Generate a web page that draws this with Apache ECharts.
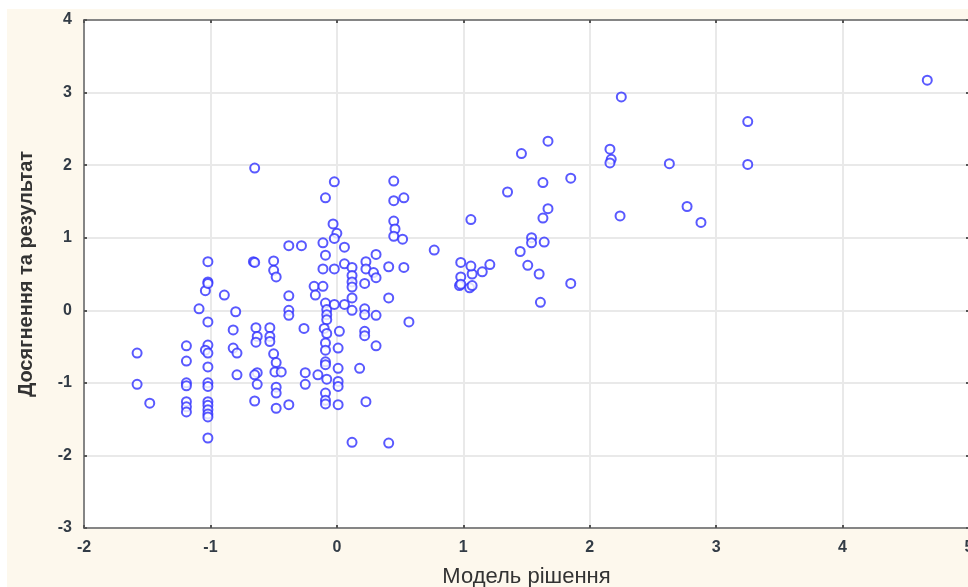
<!DOCTYPE html>
<html>
<head>
<meta charset="utf-8">
<title>Модель рішення / Досягнення та результат</title>
<script src="https://cdn.jsdelivr.net/npm/echarts@6/dist/echarts.min.js"></script>
<style>
  html, body { margin: 0; padding: 0; background: #ffffff; }
  #chart { width: 968px; height: 587px; }
</style>
</head>
<body>
<div id="chart"></div>
<script>
// Scores on the "decision model" factor (x) and "achievement & result" factor (y)
const modelScores = [
  -1.58, -1.58, -1.48, -1.19, -1.19, -1.19, -1.19, -1.19, -1.19, -1.19,
  -1.09, -1.04, -1.02, -1.02, -1.02, -1.02, -1.02, -1.04, -1.02, -1.02,
  -1.02, -1.02, -1.02, -1.02, -1.02, -1.02, -1.02, -1.02, -0.89, -0.80,
  -0.82, -0.82, -0.79, -0.79,
  -0.65, -0.66, -0.65, -0.64, -0.63, -0.64, -0.63, -0.65, -0.63, -0.65,
  -0.50, -0.50, -0.48, -0.53, -0.53, -0.53, -0.50, -0.48, -0.49, -0.44,
  -0.48, -0.48, -0.48,
  -0.38, -0.38, -0.38, -0.38, -0.38,
  -0.28, -0.26, -0.25, -0.25,
  -0.18, -0.17, -0.15,
  -0.09, -0.11, -0.09, -0.11, -0.11, -0.09, -0.08, -0.08, -0.08, -0.10,
  -0.08, -0.09, -0.09, -0.09, -0.09, -0.08, -0.09, -0.09, -0.09,
  -0.02, -0.03, 0.00, -0.02, 0.06, -0.02, 0.06, -0.02, 0.06, 0.02,
  0.01, 0.01, 0.01, 0.01, 0.01,
  0.12, 0.12, 0.12, 0.12, 0.12, 0.12, 0.12, 0.18,
  0.23, 0.23, 0.22, 0.22, 0.22, 0.22, 0.22, 0.23, 0.29, 0.31,
  0.31, 0.31, 0.31,
  0.41, 0.41, 0.41, 0.45, 0.45, 0.53, 0.45, 0.46, 0.45, 0.52,
  0.53, 0.57, 0.77,
  0.98, 0.98, 0.97, 0.98, 1.05, 1.07, 1.07, 1.06, 1.15, 1.21, 1.06,
  1.35, 1.46, 1.45, 1.51, 1.54, 1.54, 1.64, 1.60, 1.61, 1.63,
  1.67, 1.63, 1.67, 1.85, 1.85,
  2.16, 2.17, 2.16, 2.25, 2.24, 2.63, 2.77, 2.88, 3.25, 3.25, 4.67
];
const resultScores = [
  -0.59, -1.02, -1.28, -0.49, -0.70, -1.00, -1.04, -1.26, -1.33, -1.40,
  0.02, 0.27, 0.67, 0.39, 0.37, -0.16, -0.48, -0.55, -0.59, -0.78,
  -1.00, -1.05, -1.26, -1.31, -1.37, -1.43, -1.47, -1.76, 0.21, -0.02,
  -0.27, -0.52, -0.59, -0.89,
  1.96, 0.67, 0.66, -0.24, -0.36, -0.44, -0.86, -0.89, -1.02, -1.25,
  0.68, 0.55, 0.46, -0.24, -0.36, -0.43, -0.60, -0.72, -0.85, -0.85,
  -1.06, -1.14, -1.35,
  0.89, 0.20, 0.00, -0.07, -1.30,
  0.89, -0.25, -0.86, -1.02,
  0.33, 0.21, -0.89,
  1.55, 0.93, 0.76, 0.57, 0.33, 0.10, 0.01, -0.06, -0.13, -0.25,
  -0.32, -0.45, -0.55, -0.71, -0.75, -0.95, -1.14, -1.24, -1.29,
  1.77, 1.19, 1.06, 0.99, 0.87, 0.57, 0.64, 0.08, 0.08, -0.29,
  -0.52, -0.80, -0.98, -1.05, -1.30,
  0.59, 0.48, 0.39, 0.32, 0.17, 0.00, -1.82, -0.80,
  0.67, 0.57, 0.37, 0.02, -0.06, -0.29, -0.35, -1.26, 0.52, 0.45,
  0.77, -0.07, -0.49,
  0.60, 0.17, -1.83, 1.78, 1.51, 1.55, 1.23, 1.12, 1.02, 0.98,
  0.59, -0.16, 0.83,
  0.66, 0.46, 0.34, 0.36, 0.31, 0.34, 0.50, 0.61, 0.53, 0.63, 1.25,
  1.63, 2.16, 0.81, 0.62, 1.00, 0.93, 0.94, 0.50, 0.11, 1.27,
  1.40, 1.76, 2.33, 1.82, 0.37,
  2.22, 2.08, 2.03, 2.94, 1.30, 2.02, 1.43, 1.21, 2.60, 2.01, 3.17
];

const xTicks = { min: -2, max: 5, interval: 1 };
const yTicks = { min: -3, max: 4, interval: 1 };
const xTitle = 'Модель рішення';
const yTitle = 'Досягнення та результат';

const points = modelScores.map((x, i) => [x, resultScores[i]]);

const fontStack = 'Liberation Sans, Arial, sans-serif';
const labelStyle = {
  color: '#333c46',
  fontFamily: fontStack,
  fontSize: 16,
  fontWeight: 'bold'
};
const frameLine = { show: true, onZero: false, lineStyle: { color: '#858585', width: 2 } };
const innerTick = { show: true, inside: true, length: 3, lineStyle: { color: '#555', width: 2 } };
const gridLines = { show: true, lineStyle: { color: '#e9e9e9', width: 2 } };

const chart = echarts.init(document.getElementById('chart'), null, { renderer: 'canvas' });
chart.setOption({
  backgroundColor: 'transparent',
  animation: false,
  graphic: [{
    type: 'rect',
    z: -10,
    silent: true,
    shape: { x: 7, y: 9, width: 961, height: 578 },
    style: { fill: '#fdf8ed' }
  }],
  grid: {
    left: 84, top: 20, right: -1, bottom: 59,
    outerBoundsMode: 'none',
    containLabel: false,
    show: true, backgroundColor: '#ffffff', borderWidth: 0
  },
  xAxis: [{
    type: 'value', position: 'bottom',
    min: xTicks.min, max: xTicks.max, interval: xTicks.interval,
    axisLine: frameLine, axisTick: innerTick, splitLine: gridLines,
    axisLabel: Object.assign({ margin: 12 }, labelStyle),
    name: xTitle, nameLocation: 'middle', nameGap: 38,
    nameTextStyle: { color: '#333', fontFamily: fontStack, fontSize: 22 }
  }, {
    type: 'value', position: 'top',
    min: xTicks.min, max: xTicks.max, interval: xTicks.interval,
    axisLine: frameLine, axisTick: innerTick, splitLine: { show: false },
    axisLabel: { show: false }
  }],
  yAxis: [{
    type: 'value', position: 'left',
    min: yTicks.min, max: yTicks.max, interval: yTicks.interval,
    axisLine: frameLine, axisTick: innerTick, splitLine: gridLines,
    axisLabel: Object.assign({ margin: 12 }, labelStyle),
    name: yTitle, nameLocation: 'middle', nameGap: 48, nameRotate: 90,
    nameTextStyle: { color: '#333', fontFamily: fontStack, fontSize: 20, fontWeight: 'bold' }
  }, {
    type: 'value', position: 'right',
    min: yTicks.min, max: yTicks.max, interval: yTicks.interval,
    axisLine: frameLine, axisTick: innerTick, splitLine: { show: false },
    axisLabel: { show: false }
  }],
  series: [{
    type: 'scatter',
    xAxisIndex: 0, yAxisIndex: 0,
    data: points,
    symbol: 'emptyCircle',
    symbolSize: 9,
    itemStyle: { color: '#3030ff', borderColor: '#3030ff', borderWidth: 1.8 }
  }]
});
</script>
</body>
</html>
